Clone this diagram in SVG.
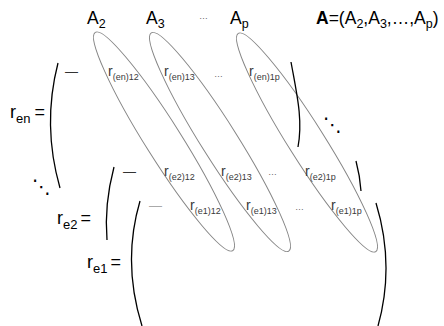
<svg xmlns="http://www.w3.org/2000/svg" width="444" height="326" viewBox="0 0 444 326">
<style>
text{font-family:"Liberation Sans",Arial,sans-serif}
.big{font-size:17.5px;fill:#000}
.eq{font-size:18px;fill:#000}
.rij{font-size:14px;fill:#3a3a3a}
.dots{font-size:9px;fill:#666}
.dash{font-size:13px;fill:#333}
.diag{font-family:"DejaVu Sans",sans-serif;font-size:19px;fill:#000}
.ell{fill:none;stroke:#858585;stroke-width:1}
.br{fill:none;stroke:#000;stroke-width:1.3}
</style>
<rect width="444" height="326" fill="#fff"/>
<g id="header">
<text class="big" x="87" y="24">A<tspan dy="4" font-size="12.5">2</tspan></text>
<text class="big" x="146" y="24">A<tspan dy="4" font-size="12.5">3</tspan></text>
<text class="dots" x="199" y="19">…</text>
<text class="big" x="230" y="24">A<tspan dy="4" font-size="12.5">p</tspan></text>
<text class="big" x="316" y="24"><tspan font-weight="bold">A</tspan>=(A<tspan dy="4" font-size="12.5">2</tspan><tspan dy="-4">,A</tspan><tspan dy="4" font-size="12.5">3</tspan><tspan dy="-4">,…,A</tspan><tspan dy="4" font-size="12.5">p</tspan><tspan dy="-4">)</tspan></text>
</g>
<g id="ellipses">
<ellipse class="ell" cx="164" cy="141.5" rx="129" ry="18" transform="rotate(57.8 164 141.5)"/>
<ellipse class="ell" cx="220" cy="142" rx="129" ry="18" transform="rotate(57.8 220 142)"/>
<ellipse class="ell" cx="307" cy="142.5" rx="129" ry="18" transform="rotate(57.8 307 142.5)"/>
</g>
<g id="matrix-en">
<text class="eq" x="10" y="118">r<tspan dy="5" font-size="13">en</tspan><tspan dy="-5" dx="4">=</tspan></text>
<path class="br" d="M58,63 Q42,125 60,188"/>
<path class="br" d="M291,62 C297,95 303,120 298,147"/>
<text class="dash" x="65" y="76">—</text>
<text class="rij" x="108" y="76">r<tspan dy="4" font-size="9">(en)12</tspan></text>
<text class="rij" x="164" y="76">r<tspan dy="4" font-size="9">(en)13</tspan></text>
<text class="dots" x="214" y="77">…</text>
<text class="rij" x="249" y="76">r<tspan dy="4" font-size="9">(en)1p</tspan></text>
</g>
<g id="ddots">
<text class="diag" x="32" y="193">⋱</text>
<text class="diag" x="323" y="131">⋱</text>
</g>
<g id="matrix-e2">
<text class="eq" x="57" y="224">r<tspan dy="5" font-size="13">e2</tspan><tspan dy="-5" dx="3">=</tspan></text>
<path class="br" d="M114,167 Q104,205 107,240"/>
<path class="br" d="M356,161 Q360,176 361,191"/>
<text class="dash" x="123" y="176">—</text>
<text class="rij" x="164" y="176">r<tspan dy="4" font-size="9">(e2)12</tspan></text>
<text class="rij" x="221" y="176">r<tspan dy="4" font-size="9">(e2)13</tspan></text>
<text class="dots" x="268" y="175">…</text>
<text class="rij" x="305" y="176">r<tspan dy="4" font-size="9">(e2)1p</tspan></text>
</g>
<g id="matrix-e1">
<text class="eq" x="87" y="268">r<tspan dy="5" font-size="13">e1</tspan><tspan dy="-5" dx="3">=</tspan></text>
<path class="br" d="M140,201 Q122,262 142,326"/>
<path class="br" d="M376,203 Q395,265 378,326"/>
<text class="dash" x="149" y="210" style="fill:#aaa">—</text>
<text class="rij" x="190" y="210">r<tspan dy="4" font-size="9">(e1)12</tspan></text>
<text class="rij" x="246" y="210">r<tspan dy="4" font-size="9">(e1)13</tspan></text>
<text class="dots" x="295" y="210">…</text>
<text class="rij" x="331" y="210">r<tspan dy="4" font-size="9">(e1)1p</tspan></text>
</g>
</svg>
